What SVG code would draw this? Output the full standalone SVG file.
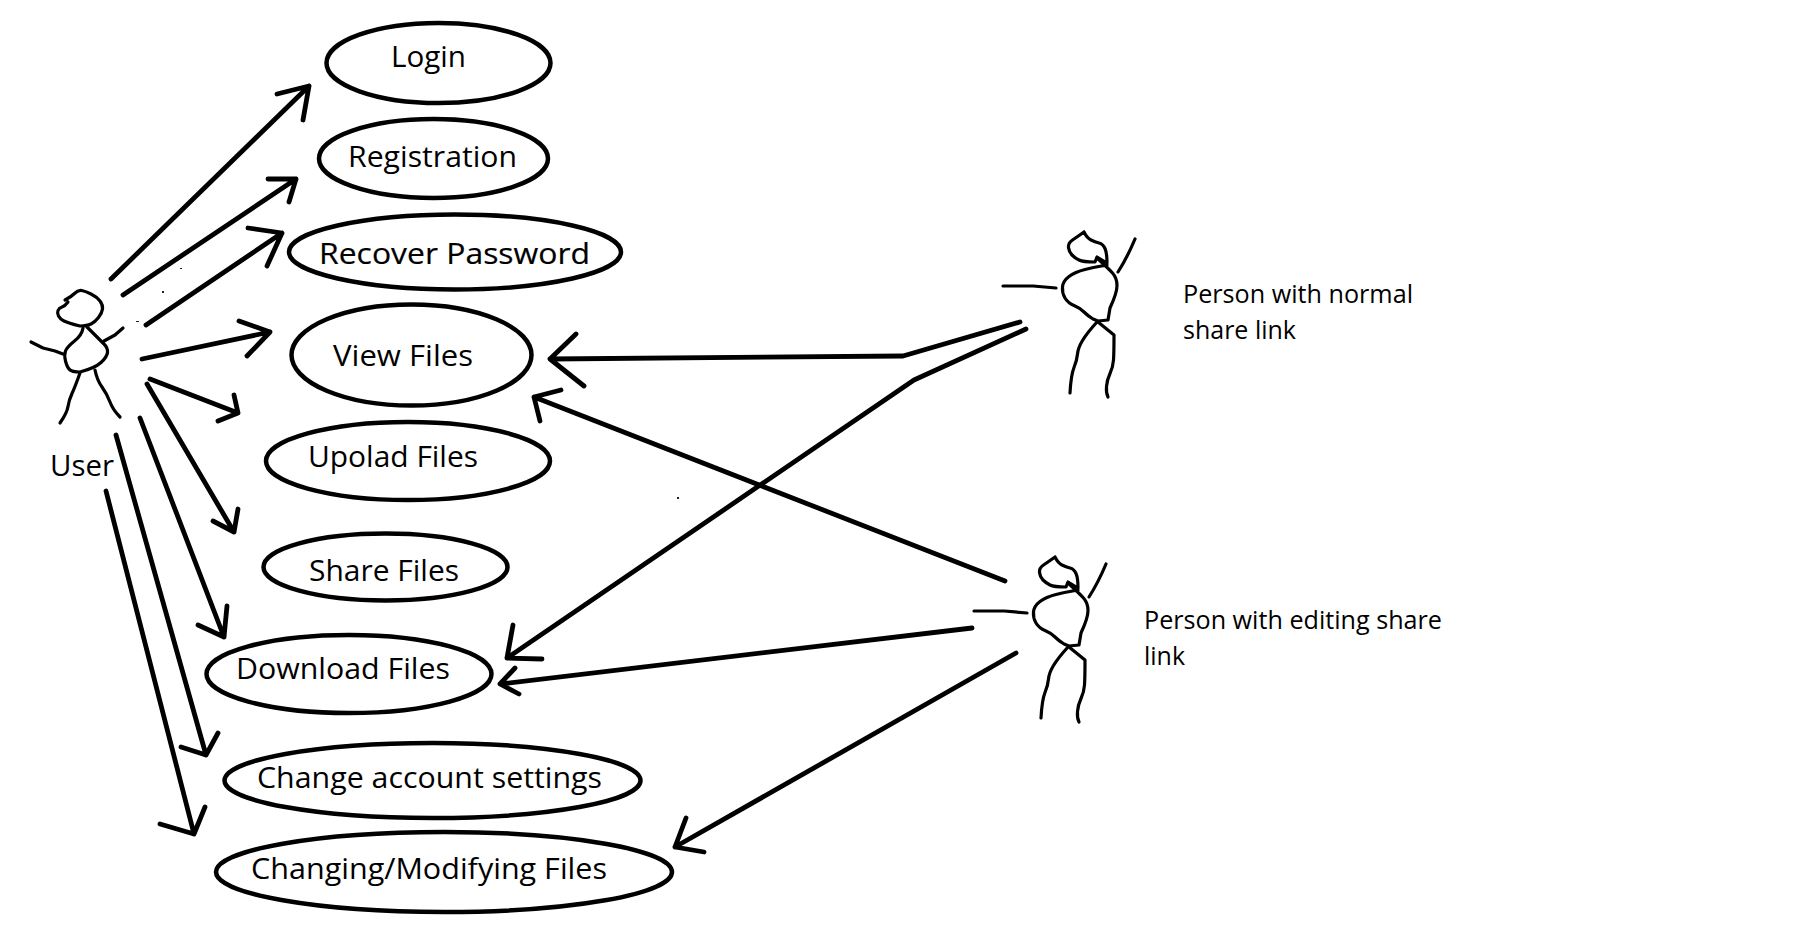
<svg xmlns="http://www.w3.org/2000/svg" width="1794" height="932" viewBox="0 0 1794 932">
<style>
.uc{fill:none;stroke:#000;stroke-width:4.5}
.fig{fill:none;stroke:#000;stroke-width:3.2;stroke-linecap:round;stroke-linejoin:round}
.ar{fill:none;stroke:#000;stroke-width:4.8;stroke-linecap:round;stroke-linejoin:round}
.speck{fill:#222}
text{font-family:"Open Sans","Noto Sans","Liberation Sans",sans-serif;fill:#000}
.l{font-size:29px}
.s{font-size:25px}
.b{stroke:#000;stroke-width:.2}
</style>
<defs>
<g id="person">
<path d="M1084 232Q1087 238 1091 240Q1095 242 1099 243Q1103 244 1105 248.5Q1107 253 1107 263L1097 257L1095 262Q1083 262 1079 260Q1075 258 1072 255Q1069 252 1068.5 247.5Q1068 243 1072.5 240Q1077 237 1084 232"/>
<path d="M1107 265Q1095 267 1085 269.5Q1075 272 1069 276.5Q1063 281 1062.5 287Q1062 293 1065 298Q1068 303 1074 305.5Q1080 308 1084 312Q1088 316 1093 319L1098 321L1108 320L1110 308Q1117 293 1117 285.5Q1117 278 1112.5 273Q1108 268 1097 258"/>
<path d="M1003 286L1033 286L1056 288"/>
<path d="M1118 272Q1127 258 1135 239"/>
<path d="M1097 322Q1087 333 1082.5 340.5Q1078 348 1077.5 354Q1077 360 1074 367.5Q1071 375 1070 393"/>
<path d="M1098 322L1114 335Q1114 353 1113.5 360Q1113 367 1110 373.5Q1107 380 1106.5 386.5Q1106 393 1108 397"/>
</g>
</defs>
<rect width="1794" height="932" fill="#fff"/>
<g id="connectors" class="ar">
<path d="M111 279L309 86M277 94L309 86L303 120"/>
<path d="M123 295L296 179M268 179L296 179L289 202"/>
<path d="M146 325L282 233M248 228L282 233L267 266"/>
<path d="M142 359L270 332M239 321L270 332L247 356"/>
<path d="M150 379L238 413M234 395L238 413L218 421"/>
<path d="M147 384L234 532M238 509L234 532L213 521"/>
<path d="M140 418L224 637M227 606L224 637L198 625"/>
<path d="M116 435L206 755M218 733L206 755L181 747"/>
<path d="M106 491L194 834M205 807L194 834L160 824"/>
<path d="M1020 322L903 356L550 359M576 334L550 359L584 386"/>
<path d="M1026 329L914 380L507 658M513 625L507 658L542 659"/>
<path d="M1005 581L534 397M561 390L534 397L540 421"/>
<path d="M972 628L500 684M515 668L500 684L519 694"/>
<path d="M1016 653L675 847M686 818L675 847L704 852"/>
</g>
<g id="specks" class="speck">
<rect x="136" y="321" width="3" height="1"/>
<rect x="162" y="291" width="2" height="2"/>
<rect x="180" y="268" width="2" height="1"/>
<rect x="677" y="497" width="2" height="2"/>
</g>
<g id="uc-login"><ellipse class="uc" cx="438.5" cy="63" rx="112" ry="40"/><text class="l" x="391" y="67" textLength="75" lengthAdjust="spacingAndGlyphs">Login</text></g>
<g id="uc-registration"><ellipse class="uc" cx="433.5" cy="158.5" rx="114.5" ry="39.5"/><text class="l" x="348" y="167" textLength="169" lengthAdjust="spacingAndGlyphs">Registration</text></g>
<g id="uc-recover"><ellipse class="uc" cx="455" cy="252" rx="166" ry="37.5"/><text class="l b" x="319" y="264" textLength="271" lengthAdjust="spacingAndGlyphs">Recover Password</text></g>
<g id="uc-view"><ellipse class="uc" cx="411.5" cy="355" rx="120" ry="50.5"/><text class="l" x="333" y="366" textLength="140" lengthAdjust="spacingAndGlyphs">View Files</text></g>
<g id="uc-upload"><ellipse class="uc" cx="408" cy="461" rx="142" ry="39"/><text class="l" x="308" y="467" textLength="170" lengthAdjust="spacingAndGlyphs">Upolad Files</text></g>
<g id="uc-share"><ellipse class="uc" cx="385.5" cy="567" rx="122" ry="33.5"/><text class="l" x="309" y="581" textLength="150" lengthAdjust="spacingAndGlyphs">Share Files</text></g>
<g id="uc-download"><ellipse class="uc" cx="349" cy="674" rx="142.5" ry="39"/><text class="l" x="236" y="679" textLength="214" lengthAdjust="spacingAndGlyphs">Download Files</text></g>
<g id="uc-change"><ellipse class="uc" cx="432.5" cy="780.5" rx="208" ry="37.5"/><text class="l" x="257" y="787.5" textLength="345" lengthAdjust="spacingAndGlyphs">Change account settings</text></g>
<g id="uc-modify"><ellipse class="uc" cx="444" cy="872" rx="228" ry="40"/><text class="l" x="251" y="878.5" textLength="356" lengthAdjust="spacingAndGlyphs">Changing/Modifying Files</text></g>
<g id="actor-user">
<g class="fig">
<path d="M65 300Q71 297 74.5 293.5Q78 290 81.5 290.5Q85 291 91 294Q97 297 100 301Q103 305 102.500 309Q102 313 98.500 317.500Q95 322 91 324Q87 326 80 326Q68 323 64 321Q60 319 58.500 316Q57 313 58 310.500Q59 308 62 307Q65 306 68 302"/>
<path d="M83 328Q82 335 74.500 341Q67 347 65.500 351Q64 355 65.500 361Q67 367 69.500 369.500Q72 372 80 372Q95 368 101 362.500Q107 357 107.500 352.500Q108 348 104 344Q100 340 87 327"/>
<path d="M31 342L43 348L55 351L63 354"/>
<path d="M104 341L115 335L123 328"/>
<path d="M80 373Q75 387 72 393.500Q69 400 68 406.500Q67 413 60 423"/>
<path d="M95 370Q97 380 102 387Q107 394 110 402Q113 410 120 417"/>
</g>
<text class="l" x="50" y="476" textLength="64" lengthAdjust="spacingAndGlyphs">User</text>
</g>
<g id="actor-normal">
<use href="#person" class="fig"/>
<text class="s" x="1183" y="303" textLength="230" lengthAdjust="spacingAndGlyphs">Person with normal</text>
<text class="s" x="1183" y="339" textLength="113" lengthAdjust="spacingAndGlyphs">share link</text>
</g>
<g id="actor-editing">
<use href="#person" class="fig" transform="translate(-29 325)"/>
<text class="s" x="1144" y="629" textLength="298" lengthAdjust="spacingAndGlyphs">Person with editing share</text>
<text class="s" x="1144" y="665" textLength="41" lengthAdjust="spacingAndGlyphs">link</text>
</g>
</svg>
